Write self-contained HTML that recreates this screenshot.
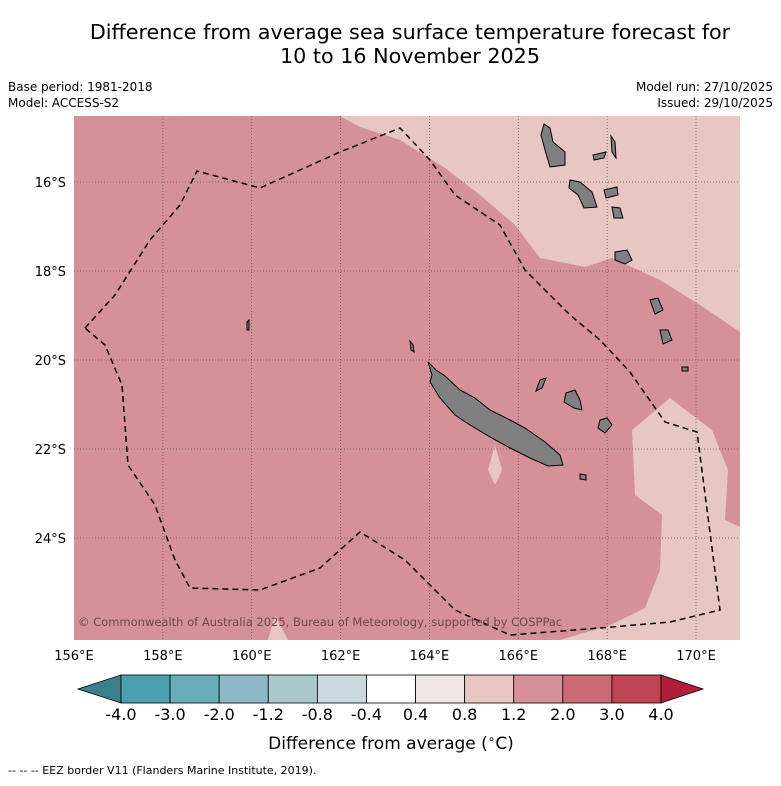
<!DOCTYPE html>
<html><head><meta charset="utf-8"><style>
body{margin:0;background:#fff;width:781px;height:781px;overflow:hidden;font-family:"Liberation Sans","DejaVu Sans",sans-serif;}
</style></head><body>
<svg width="781" height="781" viewBox="0 0 781 781" font-family="DejaVu Sans, Liberation Sans, sans-serif">
<text x="410" y="39" font-size="20.7" text-anchor="middle">Difference from average sea surface temperature forecast for</text>
<text x="410" y="63" font-size="20.7" text-anchor="middle">10 to 16 November 2025</text>
<text x="8" y="91" font-size="12">Base period: 1981-2018</text>
<text x="8" y="107" font-size="12">Model: ACCESS-S2</text>
<text x="773" y="91" font-size="12" text-anchor="end">Model run: 27/10/2025</text>
<text x="773" y="107" font-size="12" text-anchor="end">Issued: 29/10/2025</text>

<g>
<rect x="74" y="116" width="666" height="524" fill="#d69098"/>
<polygon fill="#e8c6c1" points="340,116 360,127 400,140 445,168 480,195 515,225 540,258 585,267 612,258 660,280 700,305 740,332 740,116"/>
<polygon fill="#e8c6c1" points="632,430 670,398 712,430 728,470 725,520 740,527 740,640 560,640 610,625 645,608 660,570 662,515 635,495"/>
<polygon fill="#e8c6c1" points="495,445 502,470 495,485 488,470"/>
<polygon fill="#e8c6c1" points="268,640 275,615 288,640"/>

<g id="grid" stroke="#555" stroke-width="0.7" stroke-dasharray="1,2"></g>

<g fill="#808080" stroke="#000" stroke-width="1">
<polygon points="428,362 436,370 445,376 460,390 475,398 490,410 510,420 525,428 545,442 560,455 563,465 548,466 530,458 510,448 490,437 470,425 455,415 440,398 430,382 432,375"/>
<polygon points="566,393 575,390 580,400 582,410 574,408 564,402"/>
<polygon points="600,420 607,418 612,425 605,433 598,428"/>
<polygon points="540,380 546,378 542,388 536,391"/>
<polygon points="580,474 586,475 586,480 580,479"/>
<polygon points="544,124 550,128 553,142 565,152 565,165 550,167 545,150 541,135"/>
<polygon points="570,180 580,182 592,192 597,207 584,208 578,195 569,188"/>
<polygon points="593,155 606,152 604,158 594,160"/>
<polygon points="611,136 615,142 616,158 612,152"/>
<polygon points="604,190 617,187 618,195 606,198"/>
<polygon points="612,207 620,208 623,218 614,218"/>
<polygon points="615,252 627,250 632,260 625,264 615,260"/>
<polygon points="650,300 658,298 663,310 655,314"/>
<polygon points="660,330 668,330 672,340 663,344"/>
<polygon points="682,367 688,367 688,371 682,371"/>
<polygon points="247,322 249,320 249,330 247,330"/>
<polygon points="410,341 413,345 414,352 411,350"/>
</g>

<polyline fill="none" stroke="#000" stroke-width="1.5" stroke-dasharray="6,4" points="85,328 115,295 150,240 180,205 197,171 260,188 340,152 400,128 430,160 455,195 500,225 525,270 545,290 570,315 600,340 630,372 665,422 697,432 720,610 670,622 600,628 510,635 455,610 405,560 360,532 320,568 260,590 190,588 175,560 155,505 128,465 122,385 105,345 85,328"/>
<text x="78" y="626" font-size="11.5" fill="#6a4a4e">© Commonwealth of Australia 2025, Bureau of Meteorology, supported by COSPPac</text>
</g>
<g id="axes" font-size="13"></g>
<g id="cbar"></g>
<text x="391" y="749" font-size="17" text-anchor="middle">Difference from average (<tspan font-size="12" dy="-6">∘</tspan><tspan dy="6">C)</tspan></text>
<text x="8" y="774" font-size="11">--  --  -- EEZ border V11 (Flanders Marine Institute, 2019).</text>
</svg>
<script>
const lonTicks=[156,158,160,162,164,166,168,170];
const latTicks=[16,18,20,22,24];
const levelLabels=["-4.0","-3.0","-2.0","-1.2","-0.8","-0.4","0.4","0.8","1.2","2.0","3.0","4.0"];
const levelColors=["#4aa0b0","#6aadba","#8db9c4","#a9c8cc","#cad9de","#ffffff","#eee6e6","#e8c6c1","#d69098","#cc6b76","#bf4555"];
const ns="http://www.w3.org/2000/svg";
function xOf(lon){return 74+(lon-156)*44.43;}
function yOf(lat){return 182+(lat-16)*44.5;}
function mk(t,a,p){const e=document.createElementNS(ns,t);for(const k in a)e.setAttribute(k,a[k]);p.appendChild(e);return e;}
const grid=document.getElementById('grid'),axes=document.getElementById('axes'),cb=document.getElementById('cbar');
lonTicks.forEach(l=>{const x=xOf(l);
 if(l>156){const g=mk('line',{x1:x,x2:x,y1:116,y2:640},grid);
 
 }
 const t=mk('text',{x:x,y:660,'text-anchor':'middle'},axes);t.textContent=l+'°E';
 
 });
latTicks.forEach(l=>{const y=yOf(l);
 const g=mk('line',{x1:74,x2:740,y1:y,y2:y},grid);
 
 
 const t=mk('text',{x:66,y:y+5,'text-anchor':'end'},axes);t.textContent=l+'°S';
 
 });
const bx0=121,bw=(661-121)/levelColors.length,by=675,bh=28;
const la=mk('polygon',{points:`78,${by+bh/2} ${bx0},${by} ${bx0},${by+bh}`,fill:'#3a7f8a',stroke:'#000','stroke-width':0.8},cb);


levelColors.forEach((c,i)=>{const r=mk('rect',{x:bx0+i*bw,y:by,width:bw,height:bh,fill:c,stroke:'#000','stroke-width':0.8},cb);
 
 });
const xe=bx0+levelColors.length*bw;
const ra=mk('polygon',{points:`${xe},${by} ${xe+42},${by+bh/2} ${xe},${by+bh}`,fill:'#b01e3a',stroke:'#000','stroke-width':0.8},cb);


levelLabels.forEach((s,i)=>{const t=mk('text',{x:bx0+i*bw,y:720,'text-anchor':'middle','font-size':16},cb);
 t.textContent=s;
 
 });
</script>
</body></html>
